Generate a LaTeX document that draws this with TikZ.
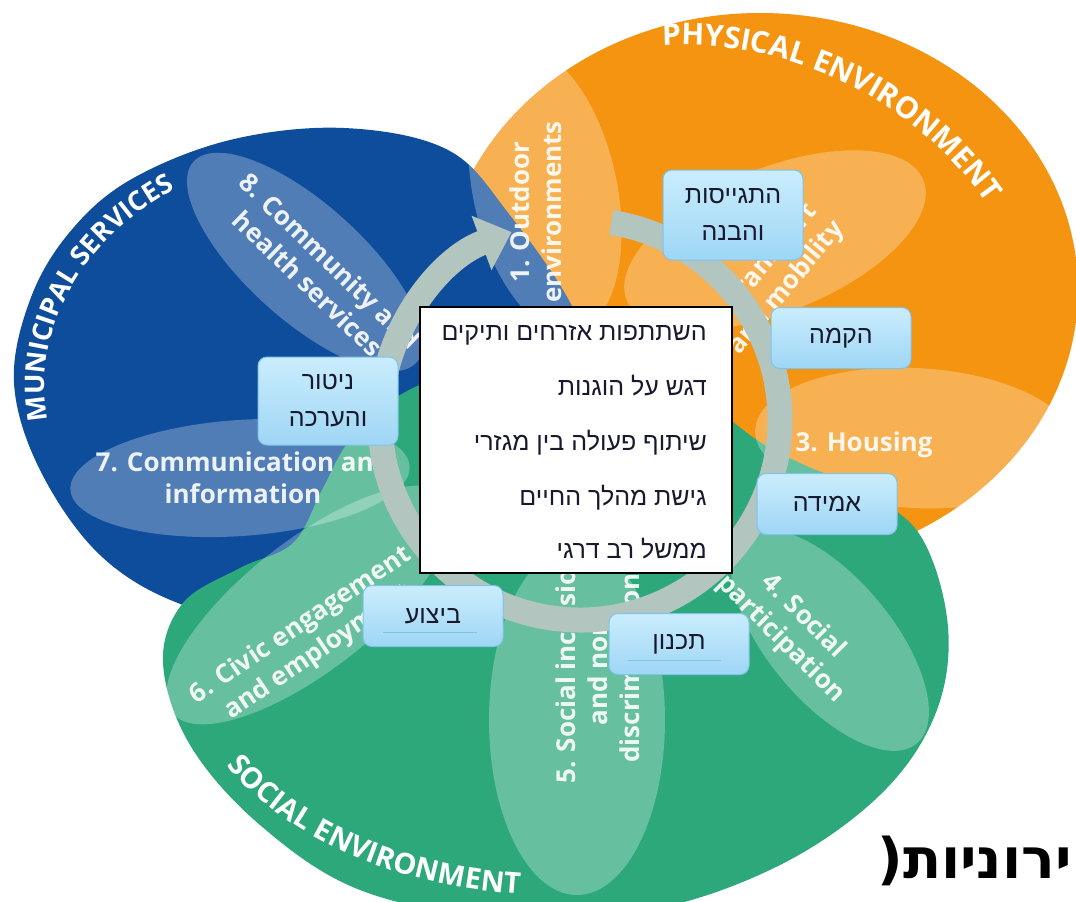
\documentclass[tikz,border=0pt]{standalone}
\usepackage{fontspec}
\usetikzlibrary{arrows.meta,decorations.text}
\newfontfamily\hebfont[Script=Hebrew]{Liberation Sans}
\newfontfamily\hebbold[Script=Hebrew]{DejaVu Sans}
\newfontfamily\labelfont{Open Sans}
\TeXXeTstate=1

\definecolor{physorange}{RGB}{244,148,16}
\definecolor{munblue}{RGB}{14,76,156}
\definecolor{socgreen}{RGB}{44,168,122}
\definecolor{ringgray}{RGB}{178,197,190}
\definecolor{boxtop}{RGB}{202,237,253}
\definecolor{boxbot}{RGB}{158,214,245}
\definecolor{boxline}{RGB}{128,195,234}
\definecolor{hebink}{RGB}{25,25,45}

\tikzset{
  petal/.style={fill=white, fill opacity=0.28},
  petaltext/.style={text=white, text opacity=0.9, align=center,
    font=\labelfont\bfseries\fontsize{26}{32}\selectfont},
  stagebox/.style={draw=boxline, line width=1pt, rounded corners=9pt,
    top color=boxtop, bottom color=boxbot, minimum width=140pt,
    minimum height=61pt, text=hebink, align=center,
    font=\hebfont\fontsize{25}{37}\selectfont},
  infoline/.style={anchor=base east, inner sep=0pt, text=hebink,
    font=\hebfont\fontsize{25}{30}\selectfont},
  ringarc/.style={draw=ringgray, line width=25pt,
    -{Triangle[length=32pt,width=56pt]}},
  bigword/.style 2 args={decorate, decoration={text along path, text align=center,
    text color=white, text={|\labelfont\bfseries\fontsize{#1}{#1}\selectfont|#2}}},
}

\begin{document}
\begin{tikzpicture}[x=1pt,y=1pt]
  \useasboundingbox (0,0) rectangle (1076,-902);
  \clip (0,0) rectangle (1076,-902);
  \fill[white] (0,0) rectangle (1076,-902);

  % the three big areas
  \fill[physorange] (760,-290) ellipse [x radius=318, y radius=277];
  \fill[munblue] plot[smooth cycle, tension=0.6] coordinates {
    (14,-383) (30,-300) (69,-233) (130,-180) (230,-140) (344,-128)
    (448,-150) (509,-214) (574,-310) (600,-400) (560,-520) (420,-610)
    (300,-630) (183,-605) (100,-555) (40,-470)};
  \fill[socgreen] plot[smooth cycle, tension=0.6] coordinates {
    (163,-663) (183,-603) (240,-568) (293,-543) (322,-490) (350,-440)
    (400,-395) (470,-370) (580,-362) (690,-395) (760,-442) (800,-463)
    (860,-490) (920,-535) (948,-627) (935,-715) (880,-795) (780,-865)
    (650,-910) (500,-918) (360,-890) (260,-825) (190,-745)};

  % petals
  \fill[petal, shift={(545,-190)}, rotate=-78] (0,0) ellipse [x radius=145, y radius=72];
  \fill[petal, shift={(775,-240)}, rotate=22] (0,0) ellipse [x radius=160, y radius=72];
  \fill[petal, shift={(915,-438)}, rotate=-3] (0,0) ellipse [x radius=160, y radius=70];
  \fill[petal, shift={(830,-640)}, rotate=-50] (0,0) ellipse [x radius=135, y radius=62];
  \fill[petal, shift={(577,-720)}] (0,0) ellipse [x radius=88, y radius=175];
  \fill[petal, shift={(310,-605)}, rotate=38] (0,0) ellipse [x radius=175, y radius=65];
  \fill[petal, shift={(240,-478)}, rotate=4] (0,0) ellipse [x radius=170, y radius=58];
  \fill[petal, shift={(305,-262)}, rotate=-42] (0,0) ellipse [x radius=150, y radius=58];

  \node[petaltext, rotate=90] (outdoor) at (536,-212) {1. Outdoor\\environments};
  \node[petaltext, rotate=50] (transport) at (775,-278) {2. Transport\\and mobility};
  \node[petaltext] (housing) at (864,-445) {3. Housing};
  \node[petaltext, rotate=-45] (participation) at (792,-628) {4. Social\\participation};
  \node[petaltext, rotate=90] (inclusion) at (598,-668) {5. Social inclusion\\and non-\\discrimination};
  \node[petaltext, rotate=34] (civic) at (310,-639) {6. Civic engagement\\and employment};
  \node[petaltext] (communication) at (243,-478) {7. Communication and\\information};
  \node[petaltext, rotate=-44] (health) at (319,-272) {8. Community and\\health services};

  \path[bigword={30}{PHYSICAL ENVIRONMENT}, shift={(682,-417)}]
    (108:372) arc[start angle=108, end angle=20, radius=372];
  \path[bigword={27}{MUNICIPAL SERVICES}, shift={(335,-385)}]
    (202:290 and 234) arc[start angle=202, end angle=112, x radius=290, y radius=234];
  \path[bigword={29}{SOCIAL ENVIRONMENT}, shift={(555,-650)}]
    (186:372 and 245) arc[start angle=186, end angle=280, x radius=372, y radius=245];

  % cycle
  \coordinate (ringc) at (580,-420);
  \draw[ringarc, shift={(ringc)}] (81:200) arc[start angle=81, end angle=-250, radius=200];

  \node[draw=black, line width=1.6pt, fill=white, minimum width=312pt,
    minimum height=266pt] (info) at (576,-440) {};
  \node[infoline] (goal1) at (707,-340) {\beginR השתתפות אזרחים ותיקים\endR};
  \node[infoline] (goal2) at (707,-395) {\beginR דגש על הוגנות\endR};
  \node[infoline] (goal3) at (707,-450) {\beginR שיתוף פעולה בין מגזרי\endR};
  \node[infoline] (goal4) at (707,-505) {\beginR גישת מהלך החיים\endR};
  \node[infoline] (goal5) at (707,-558) {\beginR ממשל רב דרגי\endR};

  \node[stagebox, minimum height=90pt] (mobilise) at (733,-215) {\beginR התגייסות\endR\\\beginR והבנה\endR};
  \node[stagebox] (setup) at (841,-338) {\beginR הקמה\endR};
  \node[stagebox] (assess) at (827,-504) {\beginR אמידה\endR};
  \node[stagebox] (plan) at (679,-644) {\beginR תכנון\endR};
  \node[stagebox] (implement) at (433,-616) {\beginR ביצוע\endR};
  \node[stagebox, minimum height=88pt] (monitor) at (328,-401) {\beginR ניטור\endR\\\beginR והערכה\endR};
  \draw[boxline, line width=0.8pt] (implement.south west) ++(20,15) -- ++(94,0);
  \draw[boxline, line width=0.8pt] (plan.south west) ++(19,15) -- ++(93,0);

  \node[anchor=base east, inner sep=0pt, text=black,
    font=\hebbold\bfseries\fontsize{56}{56}\selectfont] (tail) at (1072,-878) {(\beginR ירוניות\endR};
\end{tikzpicture}
\end{document}
